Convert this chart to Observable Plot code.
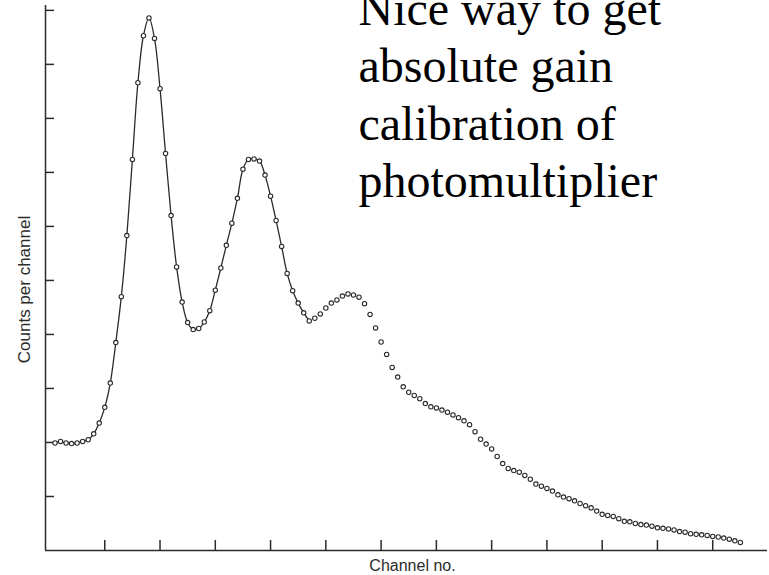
<!DOCTYPE html>
<html><head><meta charset="utf-8">
<script src="https://cdn.jsdelivr.net/npm/d3@7"></script>
<script src="https://cdn.jsdelivr.net/npm/@observablehq/plot@0.6"></script>
<style>html,body{margin:0;padding:0;background:#fff;overflow:hidden}</style>
</head><body><div id="chart"></div>
<script>
// Counts per channel (tick units), channel 1..125
const counts = [
  1.99, 2.02, 1.99, 1.98, 1.99, 2.02, 2.05, 2.16, 2.36, 2.65,
  3.10, 3.85, 4.70, 5.83, 7.24, 8.66, 9.53, 9.86, 9.48, 8.55,
  7.35, 6.20, 5.25, 4.60, 4.22, 4.09, 4.11, 4.23, 4.44, 4.82,
  5.23, 5.65, 6.06, 6.52, 7.06, 7.24, 7.25, 7.21, 6.95, 6.56,
  6.11, 5.63, 5.13, 4.81, 4.58, 4.40, 4.25, 4.30, 4.38, 4.49,
  4.58, 4.64, 4.71, 4.75, 4.73, 4.69, 4.57, 4.37, 4.12, 3.86,
  3.63, 3.39, 3.21, 3.03, 2.93, 2.87, 2.81, 2.72, 2.66, 2.64,
  2.60, 2.56, 2.51, 2.46, 2.40, 2.33, 2.20, 2.06, 1.97, 1.88,
  1.74, 1.61, 1.52, 1.48, 1.45, 1.39, 1.32, 1.23, 1.19, 1.15,
  1.10, 1.03, 0.99, 0.96, 0.92, 0.87, 0.83, 0.79, 0.73, 0.67,
  0.65, 0.63, 0.59, 0.54, 0.53, 0.50, 0.48, 0.47, 0.45, 0.42,
  0.41, 0.40, 0.38, 0.35, 0.34, 0.31, 0.30, 0.29, 0.28, 0.26,
  0.25, 0.23, 0.21, 0.18, 0.15
];
const lineCount = 47; // points joined by the drawn curve
const xTicks = [10, 20, 30, 40, 50, 60, 70, 80, 90, 100, 110, 120];
const yTicks = [1, 2, 3, 4, 5, 6, 7, 8, 9, 10];
const xDomain = [-0.72, 129.91];
const yDomain = [0, 10.09];
const noteLines = ["Nice way to get", "absolute gain", "calibration of", "photomultiplier"];
const yLabel = "Counts per channel";
const xLabel = "Channel no.";

const points = counts.map((v, i) => ({channel: i + 1, count: v}));
const ink = "#2b2b2b";

const chart = Plot.plot({
  width: 769, height: 575,
  marginLeft: 45, marginRight: 2, marginTop: 5, marginBottom: 25,
  style: {background: "#fff", color: ink, fontFamily: "'Liberation Sans', Arial, sans-serif"},
  x: {domain: xDomain},
  y: {domain: yDomain},
  marks: [
    Plot.ruleX([xDomain[0]], {stroke: ink, strokeWidth: 1.5}),
    Plot.ruleY([yDomain[0]], {stroke: ink, strokeWidth: 1.5}),
    Plot.axisX(xTicks, {anchor: "bottom", tickSize: -10, fill: "none", label: null, stroke: ink, strokeWidth: 1.5}),
    Plot.axisY(yTicks, {anchor: "left", tickSize: -9, fill: "none", label: null, stroke: ink, strokeWidth: 1.5}),
    Plot.line(points.slice(0, lineCount), {x: "channel", y: "count", stroke: ink, strokeWidth: 1.3, curve: "catmull-rom"}),
    Plot.dot(points, {x: "channel", y: "count", r: 2.2, stroke: ink, strokeWidth: 1.1, fill: "white"}),
    Plot.text([noteLines.join("\n")], {frameAnchor: "top-left", text: d => d, textAnchor: "start", lineAnchor: "top", lineHeight: 1.194, fontSize: 48, fontFamily: "'Liberation Serif', 'Times New Roman', serif", fill: "#000", dx: 313, dy: -21.1}),
    Plot.text([xLabel], {frameAnchor: "bottom", text: d => d, textAnchor: "middle", lineAnchor: "top", fontSize: 16, fill: ink, dx: 6, dy: 9.6}),
    Plot.text([yLabel], {frameAnchor: "left", text: d => d, textAnchor: "middle", rotate: -90, lineAnchor: "top", fontSize: 17, fill: ink, dx: -27.1, dy: 11.5})
  ]
});
document.getElementById("chart").append(chart);
</script>
</body></html>
